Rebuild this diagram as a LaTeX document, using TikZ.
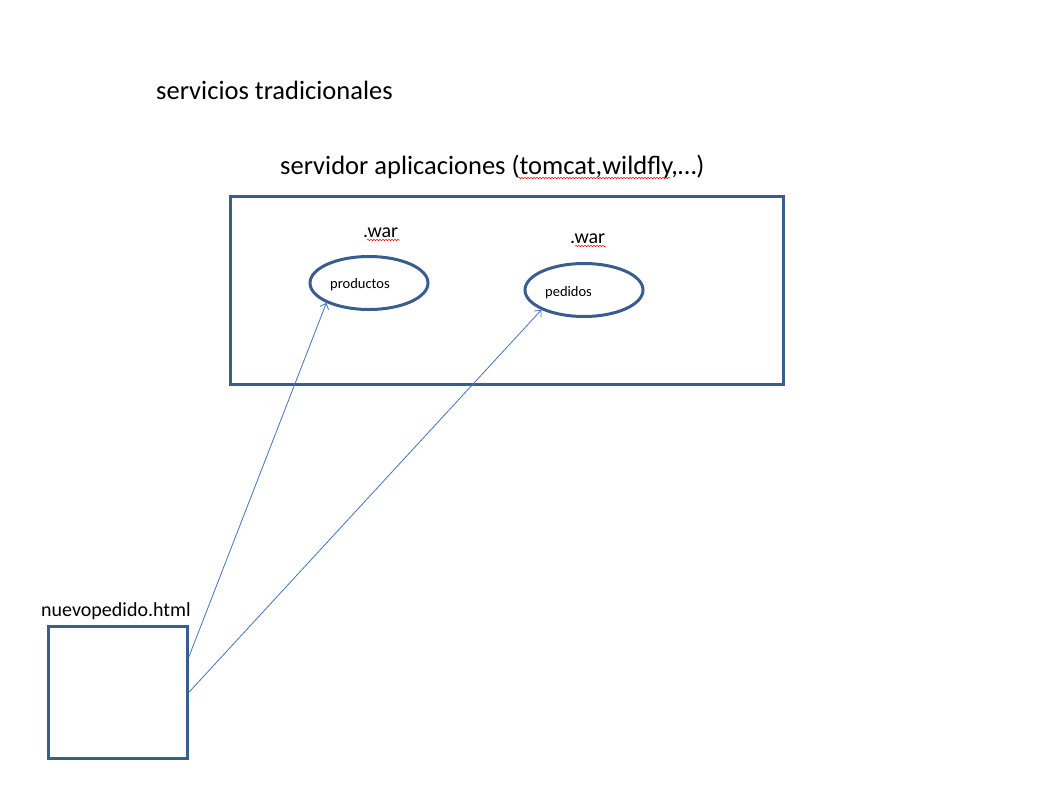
\documentclass[tikz,border=0pt]{standalone}
\usepackage{fontspec}
\setmainfont{Carlito}
\usetikzlibrary{shapes.geometric,arrows.meta,decorations.pathmorphing}
\definecolor{shapeblue}{HTML}{395D8C}
\definecolor{arrowblue}{HTML}{4472C4}
\tikzset{
  box/.style={draw=shapeblue,line width=2.8pt,inner sep=0pt},
  oval/.style={draw=shapeblue,line width=3pt,ellipse,inner sep=0pt,minimum width=118pt,minimum height=53pt},
  big/.style={font=\fontsize{26.5}{30}\selectfont,inner sep=0pt,anchor=base west},
  mid/.style={font=\fontsize{20}{24}\selectfont,inner sep=0pt,anchor=base west},
  small/.style={font=\fontsize{14.5}{17}\selectfont,inner sep=0pt,anchor=base west},
  conn/.style={draw=arrowblue,line width=0.8pt,-{Straight Barb[length=5pt,width=9pt]}},
  spell/.style={draw=red,line width=0.5pt,decorate,decoration={snake,amplitude=0.8pt,segment length=3pt}}
}
\begin{document}
\begin{tikzpicture}[x=1pt,y=-1pt]
\useasboundingbox (0,0) rectangle (1053,788);
\node[big] (t1) at (156,99) {servicios tradicionales};
\node[big] (t2) at (280,174) {servidor aplicaciones (tomcat,wildfly,…)};
\node[box,minimum width=553pt,minimum height=188pt,anchor=north west] (srv) at (229,195) {};
\node[mid] (w1) at (363,237) {.war};
\node[mid] (w2) at (570,243) {.war};
\node[oval] (prod) at (369,283) {};
\node[oval] (ped) at (584,290) {};
\node[small] (tp) at (330,288) {productos};
\node[small] (tq) at (545,296) {pedidos};
\node[mid] (th) at (41,616) {nuevopedido.html};
\node[box,minimum width=139pt,minimum height=132pt,anchor=north west] (sq) at (47,625) {};
\coordinate (s1) at ([yshift=-32pt]sq.north east);
\coordinate (s2) at (sq.east);
\draw[conn] (s1) -- (prod.205);
\draw[conn] (s2) -- (ped.205);
\draw[spell] (518,178) -- (670,178);
\draw[spell] (367,240) -- (400,240);
\draw[spell] (575,246) -- (606,246);
\end{tikzpicture}
\end{document}
